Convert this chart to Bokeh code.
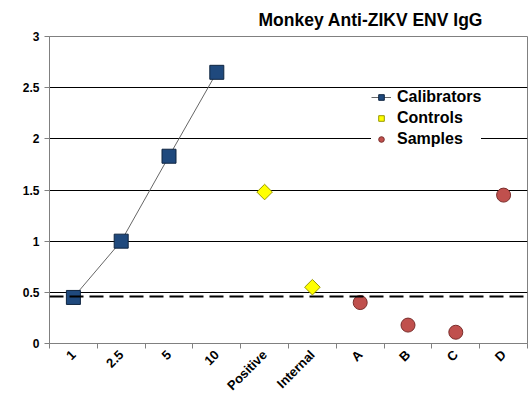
from bokeh.plotting import figure
from bokeh.models import (FixedTicker, CustomJSTickFormatter, Span, Legend, LegendItem,
                          Range1d, ColumnDataSource)
from bokeh.embed import file_html
from bokeh.resources import INLINE
import math

categories = ["1", "2.5", "5", "10", "Positive", "Internal", "A", "B", "C", "D"]
calib_cats = ["1", "2.5", "5", "10"]
calib_vals = [0.45, 1.00, 1.83, 2.65]
control_cats = ["Positive", "Internal"]
control_vals = [1.48, 0.55]
sample_cats = ["A", "B", "C", "D"]
sample_vals = [0.40, 0.18, 0.11, 1.45]
cutoff = 0.46
y_ticks = [0, 0.5, 1, 1.5, 2, 2.5, 3]

pos = {c: i + 0.5 for i, c in enumerate(categories)}

p = figure(width=529, height=401, output_backend="svg", toolbar_location=None,
           x_range=Range1d(0, len(categories)), y_range=Range1d(0, 3),
           min_border_left=49, min_border_right=2, min_border_top=36, min_border_bottom=58)

p.title.text = "Monkey Anti-ZIKV ENV IgG"
p.title.text_font = "Liberation Sans"
p.title.text_font_size = "17.5px"
p.title.text_font_style = "bold"
p.title.align = "left"
p.title.offset = 209
p.title.text_color = "black"
p.title.standoff = 14

# axes
xa = p.xaxis[0]
xa.ticker = FixedTicker(ticks=[pos[c] for c in categories], minor_ticks=list(range(len(categories) + 1)))
xa.major_label_overrides = {pos[c]: c for c in categories}
xa.major_label_orientation = math.pi / 4
xa.major_tick_line_color = None
xa.minor_tick_out = 5
xa.minor_tick_in = 0
xa.minor_tick_line_color = "#808080"
xa.axis_line_color = "#808080"
xa.major_label_text_font = "Liberation Sans"
xa.major_label_text_font_style = "bold"
xa.major_label_text_font_size = "13px"
xa.major_label_text_color = "black"
xa.major_label_standoff = 3

ya = p.yaxis[0]
ya.ticker = FixedTicker(ticks=y_ticks)
ya.formatter = CustomJSTickFormatter(code="return tick.toString();")
ya.axis_line_color = "#808080"
ya.major_tick_line_color = "#808080"
ya.major_tick_out = 5
ya.major_tick_in = 0
ya.minor_tick_line_color = None
ya.major_label_text_font = "Liberation Sans"
ya.major_label_text_font_style = "bold"
ya.major_label_text_font_size = "12px"
ya.major_label_text_color = "black"

p.xgrid.grid_line_color = None
p.ygrid.ticker = FixedTicker(ticks=y_ticks[1:])
p.ygrid.grid_line_color = "black"
p.ygrid.grid_line_width = 1
p.outline_line_color = "#808080"
p.outline_line_width = 1

p.add_layout(Span(location=cutoff, dimension="width", line_color="black",
                  line_width=2, line_dash="14 6"))

cs = ColumnDataSource(dict(x=[pos[c] for c in calib_cats], y=calib_vals))
ks = ColumnDataSource(dict(x=[pos[c] for c in control_cats], y=control_vals))
ss = ColumnDataSource(dict(x=[pos[c] for c in sample_cats], y=sample_vals))

l1 = p.line("x", "y", source=cs, line_color="#666666", line_width=1)
r1 = p.scatter("x", "y", source=cs, marker="square", size=14,
               fill_color="#1F497D", line_color="#0F2540", line_width=1)
r2 = p.scatter("x", "y", source=ks, marker="square", size=11, angle=math.pi / 4,
               fill_color="#FFFF00", line_color="#999900", line_width=1)
r3 = p.scatter("x", "y", source=ss, marker="circle", size=14,
               fill_color="#C0504D", line_color="#7A2E2C", line_width=1)

legend = Legend(items=[LegendItem(label="Calibrators", renderers=[l1, r1]),
                       LegendItem(label="Controls", renderers=[r2]),
                       LegendItem(label="Samples", renderers=[r3])],
                location=(322, 195), border_line_color=None,
                background_fill_color="white", background_fill_alpha=1,
                label_text_font="Liberation Sans", label_text_font_style="bold",
                label_text_font_size="16px", label_text_color="black",
                glyph_width=20, glyph_height=14, label_height=18, spacing=3,
                padding=8, margin=0, label_standoff=6)
p.add_layout(legend)

open("out.html", "w").write(file_html(p, INLINE))
